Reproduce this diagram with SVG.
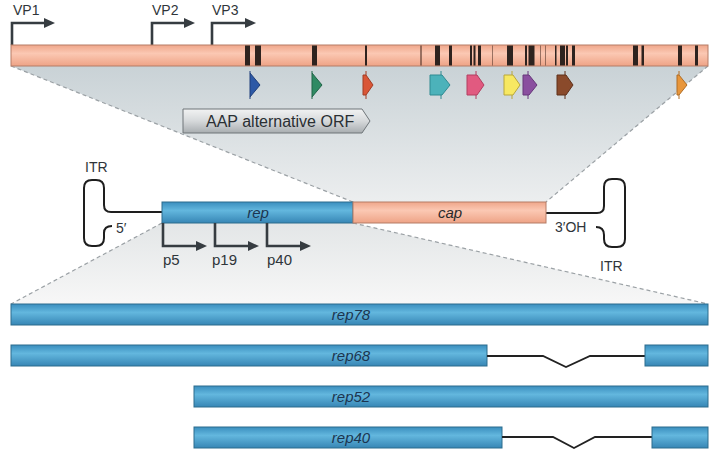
<svg xmlns="http://www.w3.org/2000/svg" width="715" height="463" viewBox="0 0 715 463">
<style>
text{font-family:"Liberation Sans",Arial,sans-serif;fill:#2f353a}
.lbl{font-size:14px}
.it{font-style:italic;font-size:15px;fill:#1c3550;text-anchor:middle}
.sal{fill:url(#salG);stroke:#b57d66;stroke-width:1}
.blu{fill:url(#bluG);stroke:#2c6c8d;stroke-width:1}
.pro{fill:none;stroke:#363c41;stroke-width:2.6;marker-end:url(#ah)}
.itr{fill:none;stroke:#1e1e1e;stroke-width:2}
.dash{fill:none;stroke:#9ba1a5;stroke-width:1.2;stroke-dasharray:4 3}
.band{fill:#2e231f}
.lt{fill:#5a3a2e;opacity:.6}
.intron{fill:none;stroke:#222;stroke-width:1.8}
</style>
<defs>
<linearGradient id="salG" x1="0" y1="0" x2="0" y2="1">
<stop offset="0" stop-color="#efa68a"/>
<stop offset="0.4" stop-color="#fbc8b3"/>
<stop offset="1" stop-color="#eea386"/>
</linearGradient>
<linearGradient id="bluG" x1="0" y1="0" x2="0" y2="1">
<stop offset="0" stop-color="#3a8ebe"/>
<stop offset="0.4" stop-color="#63b7de"/>
<stop offset="1" stop-color="#3786b5"/>
</linearGradient>
<linearGradient id="upG" x1="0" y1="0" x2="0" y2="1">
<stop offset="0" stop-color="#c9d2d6"/>
<stop offset="1" stop-color="#eceeef"/>
</linearGradient>
<linearGradient id="loG" x1="0" y1="0" x2="0" y2="1">
<stop offset="0" stop-color="#e3e6e7"/>
<stop offset="1" stop-color="#f7f7f7"/>
</linearGradient>
<linearGradient id="aapG" x1="0" y1="0" x2="0" y2="1">
<stop offset="0" stop-color="#f2f3f3"/>
<stop offset="0.5" stop-color="#d6d9db"/>
<stop offset="1" stop-color="#a8adb0"/>
</linearGradient>
<marker id="ah" markerUnits="userSpaceOnUse" markerWidth="14" markerHeight="12" viewBox="0 -6 12 12" refX="1" refY="0" orient="auto">
<path d="M0,-5 L11,0 L0,5 Z" fill="#363c41"/>
</marker>
</defs>
<rect width="715" height="463" fill="#ffffff"/>

<g id="projections">
<polygon points="11,66 708,66 546,202 353,202" fill="url(#upG)"/>
<polygon points="162,223 353,223 708,304 11,304" fill="url(#loG)"/>
</g>

<g id="connectors">
<path class="dash" d="M11,66 L353,202"/>
<path class="dash" d="M708,66 L546,202"/>
<path class="dash" d="M162,223 L11,304"/>
<path class="dash" d="M353,223 L708,304"/>
</g>

<g id="vp-promoters">
<path class="pro" d="M12,45 V23 H45"/>
<path class="pro" d="M152,45 V23 H185"/>
<path class="pro" d="M212,45 V23 H246"/>
<text class="lbl" x="13" y="15">VP1</text>
<text class="lbl" x="152" y="15">VP2</text>
<text class="lbl" x="212" y="15">VP3</text>
</g>

<g id="cap-bar">
<rect class="sal" x="11" y="45" width="697" height="21"/>
<rect class="band" x="245" y="45.5" width="5" height="20"/>
<rect class="band" x="255" y="45.5" width="6" height="20"/>
<rect class="band" x="312" y="45.5" width="5" height="20"/>
<rect class="band" x="365" y="45.5" width="2" height="20"/>
<rect class="lt" x="420" y="45.5" width="2" height="20"/>
<rect class="band" x="435" y="45.5" width="5" height="20"/>
<rect class="band" x="449" y="45.5" width="3" height="20"/>
<rect class="band" x="470" y="45.5" width="2" height="20"/>
<rect class="band" x="473.5" y="45.5" width="2" height="20"/>
<rect class="band" x="478" y="45.5" width="3" height="20"/>
<rect class="lt" x="492" y="45.5" width="1" height="20"/>
<rect class="band" x="507" y="45.5" width="6" height="20"/>
<rect class="band" x="525" y="45.5" width="2" height="20"/>
<rect class="band" x="528.5" y="45.5" width="6" height="20"/>
<rect class="lt" x="540" y="45.5" width="1" height="20"/>
<rect class="lt" x="545" y="45.5" width="1" height="20"/>
<rect class="band" x="555" y="45.5" width="1.5" height="20"/>
<rect class="band" x="560" y="45.5" width="5" height="20"/>
<rect class="band" x="566" y="45.5" width="2" height="20"/>
<rect class="band" x="572" y="45.5" width="3" height="20"/>
<rect class="band" x="633" y="45.5" width="5" height="20"/>
<rect class="band" x="641.5" y="45.5" width="2.5" height="20"/>
<rect class="band" x="678" y="45.5" width="4" height="20"/>
<rect class="band" x="695" y="45.5" width="3" height="20"/>
</g>

<g id="markers" stroke-width="1">
<path d="M250,71 V73 M250,97 V99 M250,73 L260,85 L250,97 Z" fill="#2d59a6" stroke="#1f3f7a"/>
<path d="M312,71 V73 M312,97 V99 M312,73 L322,85 L312,97 Z" fill="#2f8a63" stroke="#1f6446"/>
<path d="M366,71 V75 M366,95 V99 M363,75 H366 L373,85 L366,95 H363 Z" fill="#d95637" stroke="#a23c24"/>
<path d="M441,71 V75 M441,95 V99 M430,75 H442 L450,85 L442,95 H430 Z" fill="#4cb2ba" stroke="#2e8a91"/>
<path d="M476,71 V75 M476,95 V99 M467,75 H477 L484,85 L477,95 H467 Z" fill="#e15a80" stroke="#b23e60"/>
<path d="M512,71 V75 M512,95 V99 M504,75 H513 L520,85 L513,95 H504 Z" fill="#f7e862" stroke="#b9a73a"/>
<path d="M528,71 V75 M528,95 V99 M523,75 H529 L537,85 L529,95 H523 Z" fill="#8a4f9f" stroke="#66367a"/>
<path d="M565,71 V75 M565,95 V99 M557,75 H566 L573,85 L566,95 H557 Z" fill="#8a4a2b" stroke="#5f301a"/>
<path d="M679,71 V75 M679,95 V99 M677,75 H679 L687,85 L679,95 H677 Z" fill="#e8963b" stroke="#b06d25"/>
</g>

<g id="aap-orf">
<path d="M183,109 H362 L370,121 L362,133 H183 Z" fill="url(#aapG)" stroke="#6f7579" stroke-width="1"/>
<text x="206" y="127" style="font-size:16px;fill:#2a2f33">AAP alternative ORF</text>
</g>

<g id="genome">
<path class="itr" d="M162,212 H111 Q104,212 104,205 V188 Q104,180 96,180 H92 Q84,180 84,188 V238 Q84,246 92,246 H96 Q104,246 104,238 V233 Q104,226 112,226"/>
<text class="lbl" x="85" y="172">ITR</text>
<text class="lbl" x="116" y="233">5′</text>
<path class="itr" d="M546,213 H597 Q604,213 604,206 V187 Q604,179 612,179 H617 Q625,179 625,187 V239 Q625,247 617,247 H612 Q604,247 604,239 V235 Q604,227 596,227"/>
<text class="lbl" x="555" y="232">3′OH</text>
<text class="lbl" x="600" y="271">ITR</text>
<rect class="blu" x="162" y="202" width="191" height="21"/>
<rect class="sal" x="353" y="202" width="193" height="21"/>
<text class="it" x="258" y="218">rep</text>
<text class="it" x="450" y="218" style="fill:#2a2a2a">cap</text>
</g>

<g id="rep-promoters">
<path class="pro" d="M163,223 V246 H197"/>
<path class="pro" d="M215,223 V246 H249"/>
<path class="pro" d="M267,223 V246 H301"/>
<text class="lbl" x="163" y="265" style="font-size:15px">p5</text>
<text class="lbl" x="212" y="265" style="font-size:15px">p19</text>
<text class="lbl" x="267" y="265" style="font-size:15px">p40</text>
</g>

<g id="rep78">
<rect class="blu" x="11" y="304" width="697" height="21"/>
<text class="it" x="351" y="320">rep78</text>
</g>
<g id="rep68">
<rect class="blu" x="11" y="345" width="476" height="21"/>
<path class="intron" d="M487,356 H543 L566,367 L590,356 H645"/>
<rect class="blu" x="645" y="345" width="63" height="21"/>
<text class="it" x="351" y="361">rep68</text>
</g>
<g id="rep52">
<rect class="blu" x="194" y="386" width="514" height="21"/>
<text class="it" x="351" y="402">rep52</text>
</g>
<g id="rep40">
<rect class="blu" x="194" y="427" width="308" height="21"/>
<path class="intron" d="M502,437 H553 L574,448 L595,437 H652"/>
<rect class="blu" x="652" y="427" width="56" height="21"/>
<text class="it" x="351" y="443">rep40</text>
</g>
</svg>
